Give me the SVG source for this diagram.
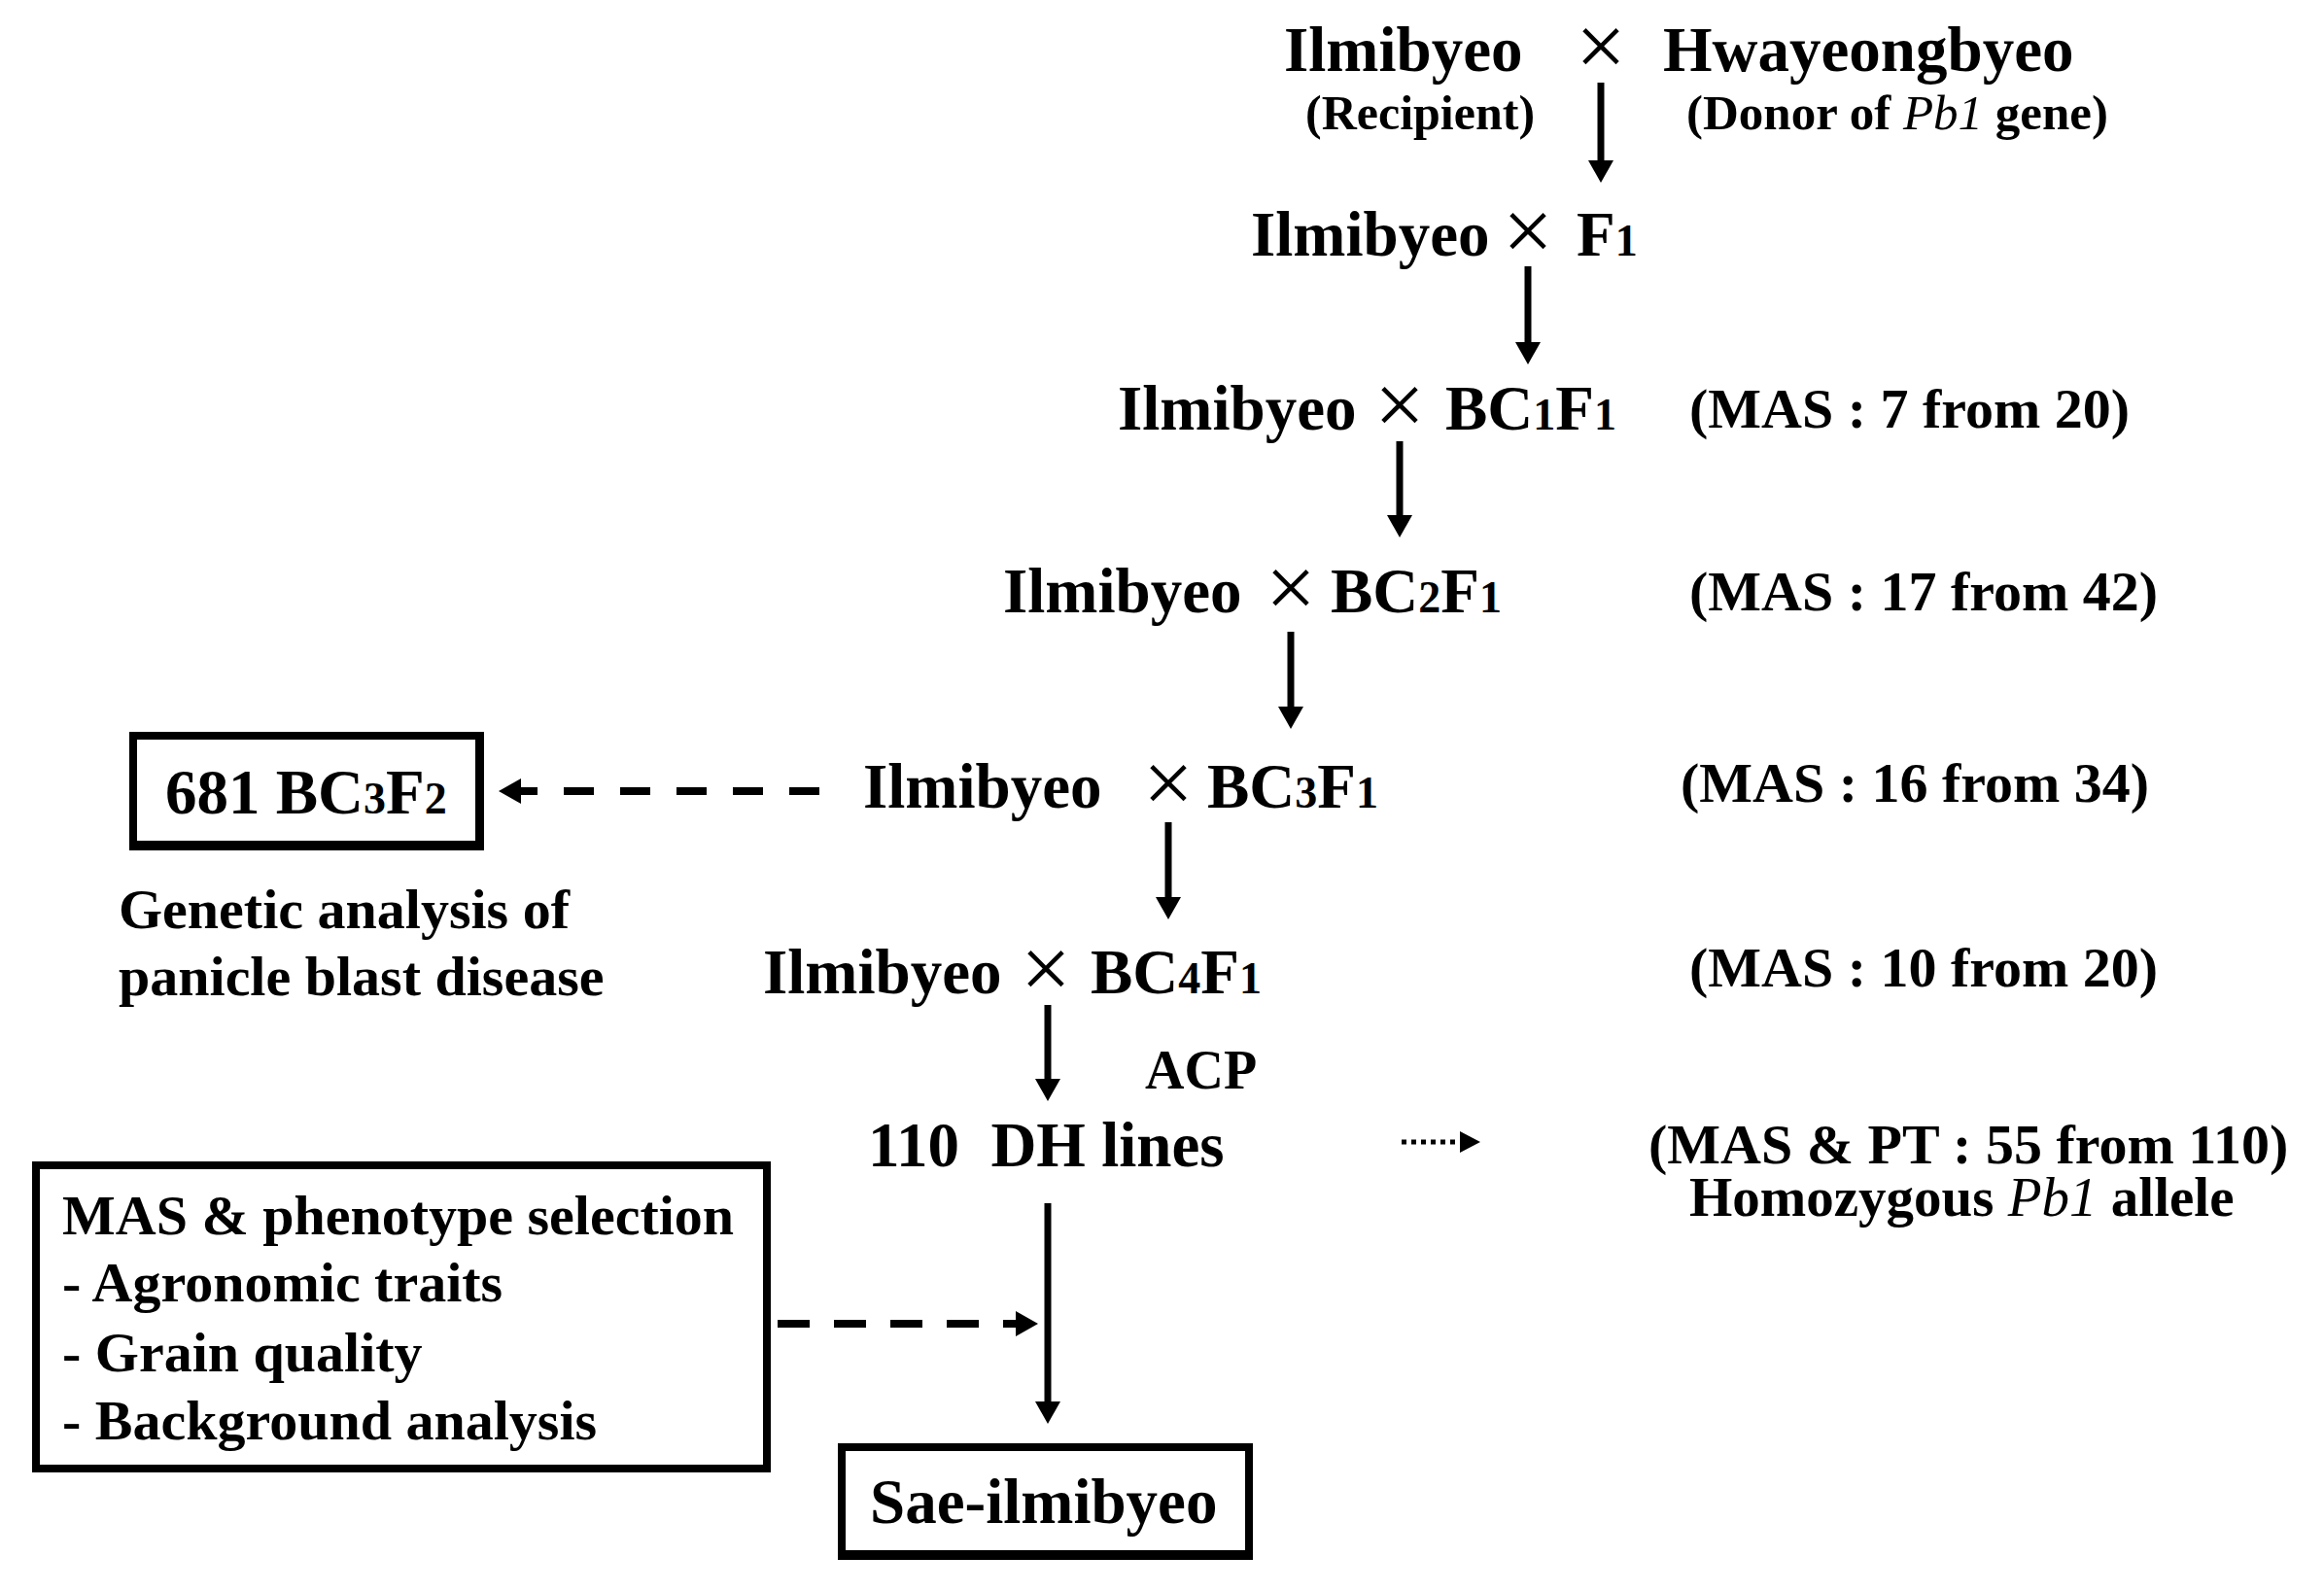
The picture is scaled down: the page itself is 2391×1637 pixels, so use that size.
<svg xmlns="http://www.w3.org/2000/svg" width="2391" height="1637" viewBox="0 0 2391 1637">
<style>
.t{font-family:"Liberation Serif","Times New Roman",serif;font-weight:bold;font-size:65px;fill:#000}
.m{font-size:58px}
.b{font-size:58px}
.s{font-size:46px}
.x{font-family:"Liberation Serif","Times New Roman",serif;font-weight:normal;font-size:92px;text-anchor:middle;fill:#000}
.i{font-style:italic;font-weight:normal}
.ln{stroke:#000;stroke-width:7;fill:none}
.dash{stroke:#000;stroke-width:8;fill:none}
.dot{stroke:#000;stroke-width:5;fill:none;stroke-dasharray:5 5}
</style>
<defs>
<marker id="ah" markerUnits="userSpaceOnUse" viewBox="0 0 23 26" refX="8" refY="13" markerWidth="23" markerHeight="26" orient="auto">
<path d="M0,0 L23,13 L0,26 z" fill="#000"/>
</marker>
<marker id="ahs" markerUnits="userSpaceOnUse" viewBox="0 0 21 22" refX="4" refY="11" markerWidth="21" markerHeight="22" orient="auto">
<path d="M0,0 L21,11 L0,22 z" fill="#000"/>
</marker>
</defs>
<rect width="2391" height="1637" fill="#fff"/>

<g id="cross0">
<text class="t" x="1321" y="73">Ilmibyeo</text>
<text class="x" x="1647" y="78">×</text>
<text class="t" x="1711" y="73">Hwayeongbyeo</text>
<text class="t" x="1343" y="133" style="font-size:50px">(Recipient)</text>
<text class="t" x="1735" y="133" style="font-size:51px">(Donor of <tspan class="i">Pb1</tspan> gene)</text>
</g>

<g id="f1">
<text class="t" x="1287" y="263">Ilmibyeo</text>
<text class="x" x="1572" y="268">×</text>
<text class="t" x="1622" y="263">F<tspan class="s">1</tspan></text>
</g>

<g id="bc1">
<text class="t" x="1150" y="442">Ilmibyeo</text>
<text class="x" x="1440" y="447">×</text>
<text class="t" x="1487" y="442">BC<tspan class="s">1</tspan>F<tspan class="s">1</tspan></text>
<text class="t m" x="1738" y="440">(MAS : 7 from 20)</text>
</g>

<g id="bc2">
<text class="t" x="1032" y="630">Ilmibyeo</text>
<text class="x" x="1328" y="635">×</text>
<text class="t" x="1369" y="630">BC<tspan class="s">2</tspan>F<tspan class="s">1</tspan></text>
<text class="t m" x="1738" y="628">(MAS : 17 from 42)</text>
</g>

<g id="bc3">
<text class="t" x="888" y="831">Ilmibyeo</text>
<text class="x" x="1202" y="836">×</text>
<text class="t" x="1242" y="831">BC<tspan class="s">3</tspan>F<tspan class="s">1</tspan></text>
<text class="t m" x="1729" y="825">(MAS : 16 from 34)</text>
</g>

<g id="bc3f2">
<rect x="133" y="753" width="365" height="122" fill="#000"/>
<rect x="141" y="761" width="348" height="104" fill="#fff"/>
<text class="t" x="170" y="837">681 BC<tspan class="s">3</tspan>F<tspan class="s">2</tspan></text>
</g>

<g id="genetic">
<text class="t m" x="122" y="955">Genetic analysis of</text>
<text class="t m" x="122" y="1024">panicle blast disease</text>
</g>

<g id="bc4">
<text class="t" x="785" y="1022">Ilmibyeo</text>
<text class="x" x="1076" y="1027">×</text>
<text class="t" x="1122" y="1022">BC<tspan class="s">4</tspan>F<tspan class="s">1</tspan></text>
<text class="t m" x="1738" y="1015">(MAS : 10 from 20)</text>
</g>

<g id="acp">
<text class="t" x="1178" y="1120" style="font-size:56px">ACP</text>
</g>

<g id="dh">
<text class="t" x="893" y="1200" xml:space="preserve">110  DH lines</text>
</g>

<g id="mas-pt">
<text class="t m" x="1696" y="1197">(MAS &amp; PT : 55 from 110)</text>
<text class="t" x="1738" y="1251" style="font-size:57px">Homozygous <tspan class="i">Pb1</tspan> allele</text>
</g>

<g id="selection">
<rect x="33" y="1195" width="760" height="320" fill="#000"/>
<rect x="41" y="1203" width="744" height="304" fill="#fff"/>
<text class="t b" x="64" y="1270">MAS &amp; phenotype selection</text>
<text class="t b" x="64" y="1339">- Agronomic traits</text>
<text class="t b" x="64" y="1411">- Grain quality</text>
<text class="t b" x="64" y="1481">- Background analysis</text>
</g>

<g id="sae">
<rect x="862" y="1485" width="427" height="120" fill="#000"/>
<rect x="870" y="1493" width="411" height="102" fill="#fff"/>
<text class="t" x="895" y="1567">Sae-ilmibyeo</text>
</g>

<g id="connectors">
<line class="ln" x1="1647" y1="85" x2="1647" y2="173" marker-end="url(#ah)"/>
<line class="ln" x1="1572" y1="274" x2="1572" y2="360" marker-end="url(#ah)"/>
<line class="ln" x1="1440" y1="454" x2="1440" y2="538" marker-end="url(#ah)"/>
<line class="ln" x1="1328" y1="650" x2="1328" y2="735" marker-end="url(#ah)"/>
<line class="ln" x1="1202" y1="846" x2="1202" y2="931" marker-end="url(#ah)"/>
<line class="ln" x1="1078" y1="1034" x2="1078" y2="1118" marker-end="url(#ah)"/>
<line class="ln" x1="1078" y1="1238" x2="1078" y2="1450" marker-end="url(#ah)"/>
<line class="dash" x1="843" y1="814" x2="528" y2="814" stroke-dasharray="31 27" marker-end="url(#ah)"/>
<line class="dash" x1="800" y1="1362" x2="1053" y2="1362" stroke-dasharray="33 25" marker-end="url(#ah)"/>
<line class="dot" x1="1442" y1="1175" x2="1506" y2="1175" marker-end="url(#ahs)"/>
</g>
</svg>
